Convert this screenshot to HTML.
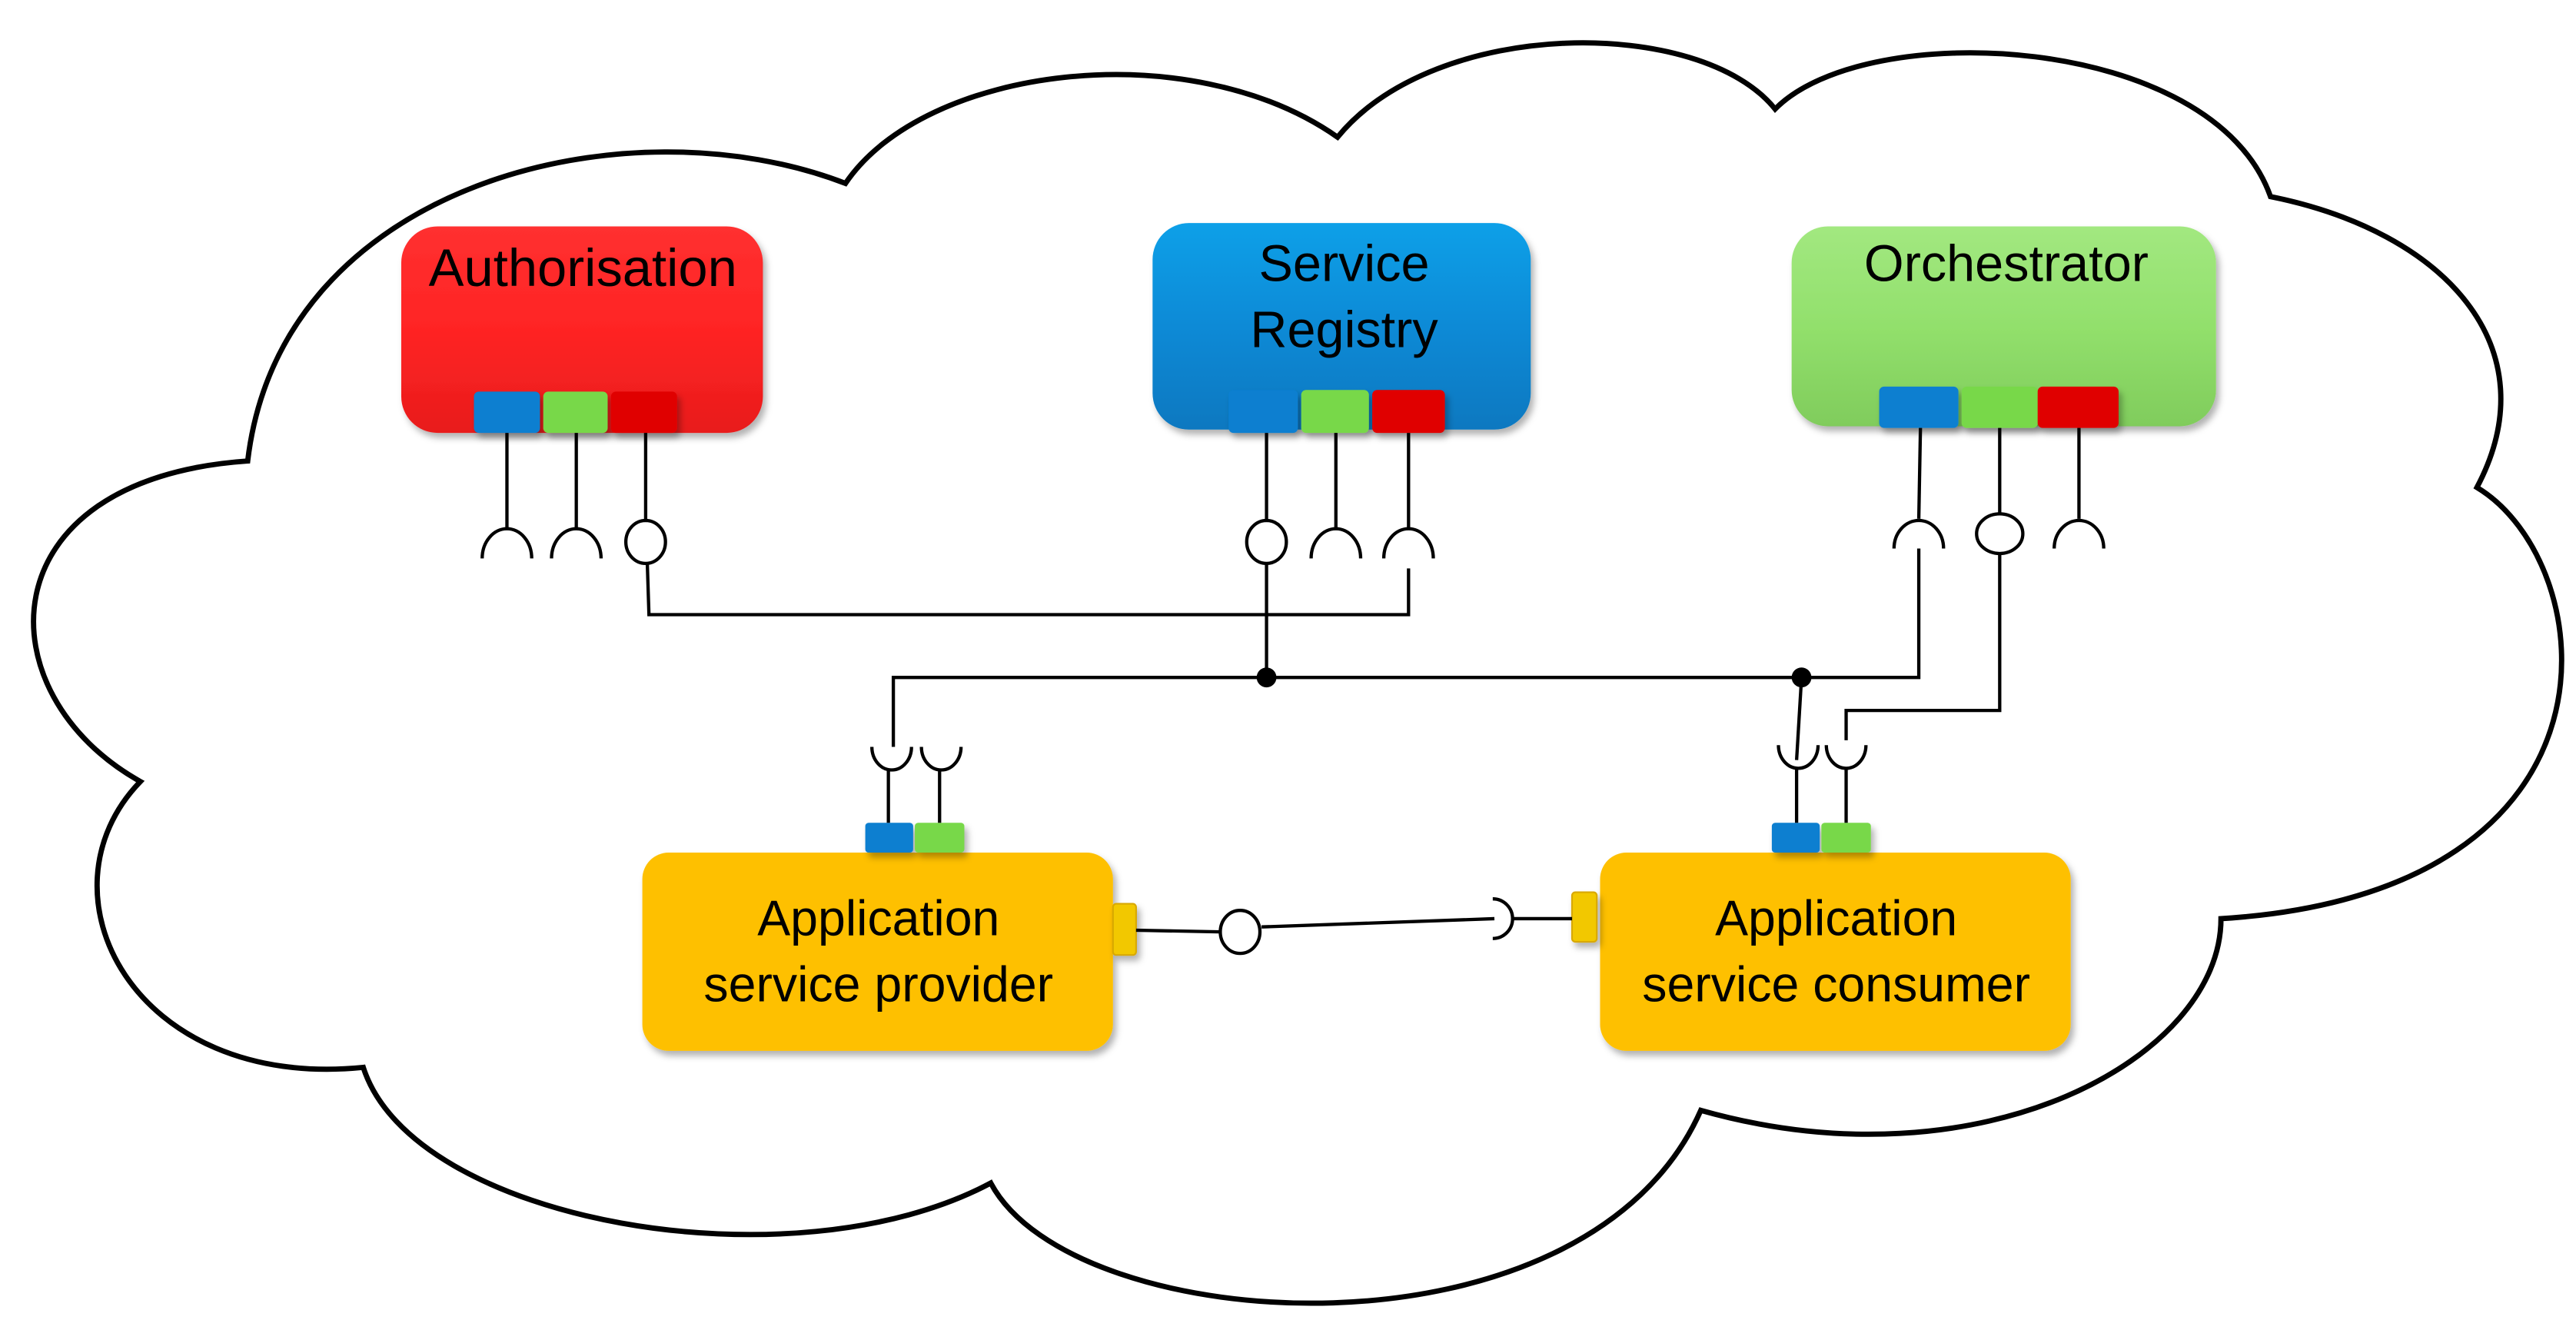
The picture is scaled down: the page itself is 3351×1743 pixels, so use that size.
<!DOCTYPE html>
<html><head><meta charset="utf-8"><style>
html,body{margin:0;padding:0;background:#fff;}
svg{display:block;}
text{font-family:"Liberation Sans",Arial,sans-serif;fill:#000;}
</style></head><body>
<svg width="3351" height="1743" viewBox="0 0 1560 811" preserveAspectRatio="none" xmlns="http://www.w3.org/2000/svg">
<defs>
<linearGradient id="gr" x1="0" y1="0" x2="0" y2="1"><stop offset="0" stop-color="#ff3030"/><stop offset="0.5" stop-color="#ff2424"/><stop offset="1" stop-color="#e81c1c"/></linearGradient>
<linearGradient id="gb" x1="0" y1="0" x2="0" y2="1"><stop offset="0" stop-color="#10a0e8"/><stop offset="0.5" stop-color="#0a8ad6"/><stop offset="1" stop-color="#0878c0"/></linearGradient>
<linearGradient id="gg" x1="0" y1="0" x2="0" y2="1"><stop offset="0" stop-color="#a2e880"/><stop offset="0.5" stop-color="#92e06c"/><stop offset="1" stop-color="#80cc5c"/></linearGradient>
<filter id="sh" x="-10%" y="-10%" width="130%" height="130%"><feDropShadow dx="2" dy="3" stdDeviation="2" flood-color="#000" flood-opacity="0.3"/></filter>
</defs>

<!-- cloud -->
<path d="M150,279
C170,110 380,60 512,111
C560,40 720,20 810,83
C870,10 1030,10 1075,66
C1130,10 1340,20 1375,119
C1480,140 1545,210 1500,295
C1575,340 1600,540 1345,556
C1345,640 1200,720 1030,672
C960,830 650,810 600,716
C480,780 250,740 220,646
C80,660 20,540 85,473
C-10,420 -10,290 150,279 Z" fill="#fff" stroke="#000" stroke-width="3.2" stroke-linejoin="miter"/>

<!-- boxes -->
<rect x="243" y="137" width="219" height="125" rx="22" fill="url(#gr)" filter="url(#sh)"/>
<rect x="698" y="135" width="229" height="125" rx="22" fill="url(#gb)" filter="url(#sh)"/>
<rect x="1085" y="137" width="257" height="121" rx="22" fill="url(#gg)" filter="url(#sh)"/>
<rect x="389" y="516" width="285" height="120" rx="16" fill="#fec000" filter="url(#sh)"/>
<rect x="969" y="516" width="285" height="120" rx="16" fill="#fec000" filter="url(#sh)"/>

<!-- ports -->
<g filter="url(#sh)">
<rect x="287" y="237" width="40" height="25" rx="3" fill="#0a7fd0"/>
<rect x="329" y="237" width="39" height="25" rx="3" fill="#78d84a"/>
<rect x="370" y="237" width="40" height="25" rx="3" fill="#e00000"/>
<rect x="744" y="236" width="42" height="26" rx="3" fill="#0a7fd0"/>
<rect x="788" y="236" width="41" height="26" rx="3" fill="#78d84a"/>
<rect x="831" y="236" width="44" height="26" rx="3" fill="#e00000"/>
<rect x="1138" y="234" width="48" height="25" rx="3" fill="#0a7fd0"/>
<rect x="1188" y="234" width="46" height="25" rx="3" fill="#78d84a"/>
<rect x="1234" y="234" width="49" height="25" rx="3" fill="#e00000"/>
<rect x="524" y="498" width="29" height="18" rx="2" fill="#0a7fd0"/>
<rect x="554" y="498" width="30" height="18" rx="2" fill="#78d84a"/>
<rect x="1073" y="498" width="29" height="18" rx="2" fill="#0a7fd0"/>
<rect x="1103" y="498" width="30" height="18" rx="2" fill="#78d84a"/>
<rect x="674" y="547" width="14" height="31" rx="2" fill="#f2c800" stroke="#d8a800" stroke-width="1"/>
<rect x="952" y="540" width="15" height="30" rx="2" fill="#f2c800" stroke="#d8a800" stroke-width="1"/>
</g>

<!-- connectors -->
<g fill="none" stroke="#000" stroke-width="2">
<line x1="307" y1="262" x2="307" y2="320"/><path d="M292,338 A15,18 0 0 1 322,338"/>
<line x1="349" y1="262" x2="349" y2="320"/><path d="M334,338 A15,18 0 0 1 364,338"/>
<line x1="391" y1="262" x2="391" y2="316"/><ellipse cx="391" cy="328" rx="12" ry="13"/>
<polyline points="392,341 393,372 853,372 853,344"/>
<line x1="767" y1="262" x2="767" y2="316"/><ellipse cx="767" cy="328" rx="12" ry="13"/>
<line x1="809" y1="262" x2="809" y2="320"/><path d="M794,338 A15,18 0 0 1 824,338"/>
<line x1="853" y1="262" x2="853" y2="320"/><path d="M838,338 A15,18 0 0 1 868,338"/>
<line x1="767" y1="341" x2="767" y2="410"/>
<polyline points="541,452 541,410 1162,410 1162,332"/>
<line x1="1163" y1="259" x2="1162" y2="314"/><path d="M1147,332 A15,17 0 0 1 1177,332"/>
<line x1="1211" y1="259" x2="1211" y2="311"/><ellipse cx="1211" cy="323" rx="14" ry="12"/>
<line x1="1259" y1="259" x2="1259" y2="314"/><path d="M1244,332 A15,17 0 0 1 1274,332"/>
<polyline points="1211,335 1211,430 1118,430 1118,448"/>
<line x1="1091" y1="410" x2="1088" y2="460"/>
<path d="M528,452 A12,14 0 0 0 552,452"/><line x1="538" y1="466" x2="538" y2="498"/>
<path d="M558,452 A12,14 0 0 0 582,452"/><line x1="569" y1="466" x2="569" y2="498"/>
<path d="M1077,451 A12,14 0 0 0 1101,451"/><line x1="1088" y1="465" x2="1088" y2="498"/>
<path d="M1106,451 A12,14 0 0 0 1130,451"/><line x1="1118" y1="465" x2="1118" y2="498"/>
<line x1="688" y1="563" x2="739" y2="564"/><ellipse cx="751" cy="564" rx="12" ry="13"/>
<line x1="764" y1="561" x2="905" y2="556"/>
<path d="M904,544 A12,12 0 0 1 904,568"/>
<line x1="916" y1="556" x2="952" y2="556"/>
</g>
<circle cx="767" cy="410" r="6" fill="#000"/>
<circle cx="1091" cy="410" r="6" fill="#000"/>

<text x="353" y="173" font-size="32" text-anchor="middle">Authorisation</text>
<text x="814" y="170" font-size="31" text-anchor="middle">Service</text>
<text x="814" y="210" font-size="31" text-anchor="middle">Registry</text>
<text x="1215" y="170" font-size="31" text-anchor="middle">Orchestrator</text>
<text x="532" y="566" font-size="30" text-anchor="middle">Application</text>
<text x="532" y="606" font-size="30" text-anchor="middle">service provider</text>
<text x="1112" y="566" font-size="30" text-anchor="middle">Application</text>
<text x="1112" y="606" font-size="30" text-anchor="middle">service consumer</text>
</svg>
</body></html>
